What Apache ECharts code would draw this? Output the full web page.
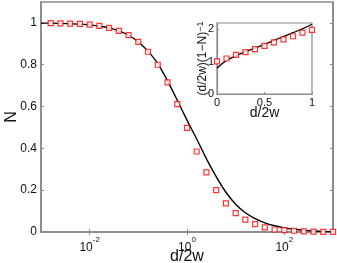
<!DOCTYPE html>
<html><head><meta charset="utf-8">
<script src="https://cdn.jsdelivr.net/npm/echarts@6/dist/echarts.min.js"></script>
<style>html,body{margin:0;padding:0;background:#fff}#c{width:337px;height:263px}</style>
</head><body><div id="c"></div>
<script>
// Main plot: measured points (squares)
const sqX = [0.00158, 0.00251, 0.00398, 0.00631, 0.01, 0.0158, 0.0251, 0.0398, 0.0631, 0.1,
  0.158, 0.251, 0.398, 0.631, 1, 1.58, 2.51, 3.98, 6.31, 10,
  15.8, 25.1, 39.8, 63.1, 100, 158, 251, 398, 631, 1000];
const sqN = [0.999, 0.998, 0.997, 0.995, 0.992, 0.986, 0.976, 0.962, 0.942, 0.909,
  0.862, 0.800, 0.716, 0.612, 0.498, 0.385, 0.285, 0.200, 0.137, 0.090,
  0.059, 0.038, 0.022, 0.012, 0.009, 0.006, 0.003, 0.002, 0.001, 0.001];
// Main plot: theory curve (black line)
const lnX = [0.001, 0.00158, 0.00251, 0.00398, 0.00631, 0.01, 0.0158, 0.0251, 0.0398, 0.0631, 0.1,
  0.158, 0.251, 0.398, 0.631, 1, 1.58, 2.51, 3.98, 6.31, 10,
  15.8, 25.1, 39.8, 63.1, 100, 158, 251, 398, 631, 1000];
const lnN = [0.999, 0.999, 0.998, 0.996, 0.994, 0.990, 0.985, 0.976, 0.962, 0.941, 0.909,
  0.865, 0.805, 0.723, 0.630, 0.535, 0.445, 0.350, 0.265, 0.190, 0.133,
  0.092, 0.064, 0.044, 0.030, 0.020, 0.013, 0.008, 0.005, 0.003, 0.002];
// Inset
const insSqX = [0, 0.1, 0.2, 0.3, 0.4, 0.5, 0.6, 0.7, 0.8, 0.9, 1.0];
const insSqY = [1.01, 1.10, 1.21, 1.30, 1.39, 1.49, 1.60, 1.69, 1.79, 1.90, 1.99];
const insLnX = [0, 0.05, 0.1, 0.2, 0.3, 0.4, 0.5, 0.6, 0.7, 0.8, 0.9, 1.0];
const insLnY = [0.80, 0.93, 1.04, 1.18, 1.31, 1.42, 1.54, 1.66, 1.78, 1.90, 2.02, 2.16];
// Ticks
const mainXTicks = [0.01, 1, 100];
const mainYTicks = [0, 0.2, 0.4, 0.6, 0.8, 1];
const insYTicks = [0, 1, 2];

const FONT = 'Liberation Sans';
const AX = '#8a8a8a';
const axLine = {show: true, lineStyle: {color: AX, width: 1.6}};
const tickIn = (vals, len) => ({show: true, inside: true, length: len || 3, customValues: vals, lineStyle: {color: AX, width: 1}});

const chart = echarts.init(document.getElementById('c'), null, {renderer: 'canvas'});
chart.setOption({
  animation: false,
  backgroundColor: '#fff',
  textStyle: {fontFamily: FONT},
  grid: [
    {left: 41, top: 2, width: 292, height: 230, show: true, borderColor: AX, borderWidth: 1.6,
     backgroundColor: 'transparent', containLabel: false, outerBoundsMode: 'none'},
    {left: 217, top: 23, width: 95, height: 71, show: true, borderColor: AX, borderWidth: 1.2,
     backgroundColor: '#fff', z: 5, containLabel: false, outerBoundsMode: 'none'}
  ],
  xAxis: [
    {type: 'log', logBase: 10, gridIndex: 0, min: 0.001, max: 1000, position: 'bottom',
     axisLine: axLine, axisTick: tickIn(mainXTicks), minorTick: {show: false}, splitLine: {show: false},
     axisLabel: {customValues: mainXTicks, margin: 4, color: '#111', fontFamily: FONT,
       formatter: v => '{b|10}{s|' + Math.round(Math.log10(v)) + '}',
       rich: {b: {fontSize: 12, fontFamily: FONT, color: '#111', lineHeight: 18, verticalAlign: 'bottom'},
              s: {fontSize: 8, fontFamily: FONT, color: '#111', lineHeight: 18, verticalAlign: 'top'}}},
     name: 'd/2w', nameLocation: 'middle', nameGap: 17, nameMoveOverlap: false,
     nameTextStyle: {fontSize: 16, fontFamily: FONT, color: '#111'}},
    {type: 'log', logBase: 10, gridIndex: 0, min: 0.001, max: 1000, position: 'top',
     axisLine: axLine, axisTick: tickIn(mainXTicks), axisLabel: {show: false}, splitLine: {show: false}, minorTick: {show: false}},
    {type: 'value', gridIndex: 1, min: 0, max: 1, interval: 0.5,
     axisLine: {show: true, lineStyle: {color: AX, width: 1.2}}, axisTick: tickIn([0, 0.5, 1], 2), splitLine: {show: false},
     axisLabel: {customValues: [0, 0.5, 1], margin: 3, fontSize: 11, color: '#111', fontFamily: FONT},
     name: 'd/2w', nameLocation: 'middle', nameGap: 12, nameMoveOverlap: false,
     nameTextStyle: {fontSize: 14, fontFamily: FONT, color: '#111'}, z: 6}
  ],
  yAxis: [
    {type: 'value', gridIndex: 0, min: 0, max: 1.1, position: 'left',
     axisLine: axLine, axisTick: tickIn(mainYTicks), splitLine: {show: false},
     axisLabel: {customValues: mainYTicks, margin: 4, fontSize: 12, color: '#111', fontFamily: FONT},
     name: 'N', nameLocation: 'middle', nameGap: 21, nameMoveOverlap: false,
     nameTextStyle: {fontSize: 16, fontFamily: FONT, color: '#111'}},
    {type: 'value', gridIndex: 0, min: 0, max: 1.1, position: 'right',
     axisLine: axLine, axisTick: tickIn(mainYTicks), axisLabel: {show: false}, splitLine: {show: false}},
    {type: 'value', gridIndex: 1, min: 0, max: 2.2, position: 'left',
     axisLine: {show: true, lineStyle: {color: AX, width: 1.2}}, axisTick: tickIn(insYTicks, 2), splitLine: {show: false},
     axisLabel: {customValues: insYTicks, margin: 3, fontSize: 11, color: '#111', fontFamily: FONT},
     name: '(d/2w)(1\u2212N){s|\u22121}', nameLocation: 'middle', nameGap: 7, nameMoveOverlap: false,
     nameTextStyle: {fontSize: 12, fontFamily: FONT, color: '#111',
       rich: {s: {fontSize: 9, fontFamily: FONT, color: '#111', verticalAlign: 'top', lineHeight: 14}}}, z: 6}
  ],
  series: [
    {type: 'line', xAxisIndex: 0, yAxisIndex: 0, data: lnX.map((x, i) => [x, lnN[i]]),
     showSymbol: false, smooth: 0.3, lineStyle: {color: '#000', width: 1.4}, z: 3},
    {type: 'scatter', xAxisIndex: 0, yAxisIndex: 0, data: sqX.map((x, i) => [x, sqN[i]]),
     symbol: 'rect', symbolSize: 5, itemStyle: {color: '#fff', borderColor: '#f00', borderWidth: 1.2}, z: 4},
    {type: 'line', xAxisIndex: 2, yAxisIndex: 2, data: insLnX.map((x, i) => [x, insLnY[i]]),
     showSymbol: false, smooth: 0.3, lineStyle: {color: '#000', width: 1.3}, z: 7},
    {type: 'scatter', xAxisIndex: 2, yAxisIndex: 2, data: insSqX.map((x, i) => [x, insSqY[i]]),
     symbol: 'rect', symbolSize: 5, itemStyle: {color: '#fff', borderColor: '#f00', borderWidth: 1.2}, z: 8}
  ]
});
</script></body></html>
